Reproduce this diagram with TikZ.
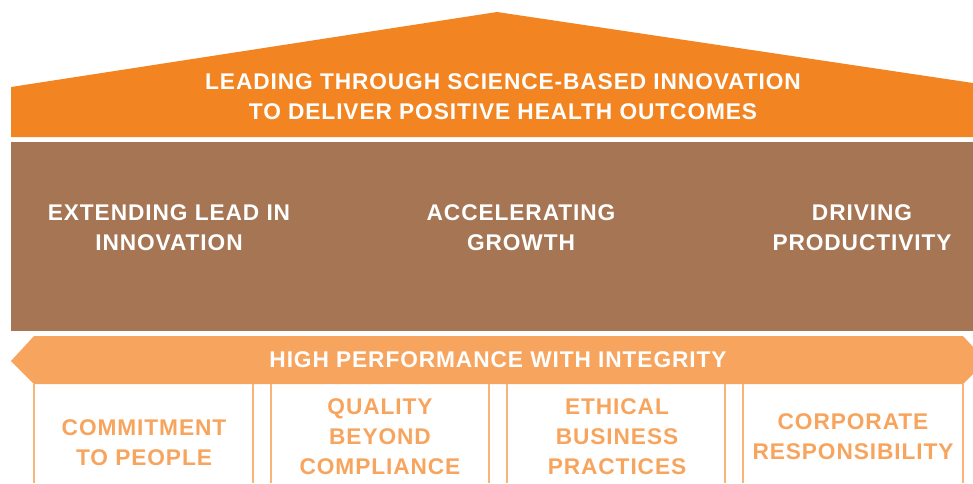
\documentclass[tikz,border=0pt]{standalone}
\usepackage{fontspec}
\setmainfont{Liberation Sans}
\usepackage{tikz}
\usetikzlibrary{positioning}

\definecolor{roofOrange}{HTML}{F28522}
\definecolor{wallBrown}{HTML}{A57554}
\definecolor{bandOrange}{HTML}{F7A55E}
\definecolor{pillarLine}{HTML}{F9B47A}

\begin{document}
\begin{tikzpicture}[
    x=1pt, y=-1pt,
    roof_text/.style={text=white, align=center, font=\fontsize{22.7}{30}\selectfont\bfseries\addfontfeatures{LetterSpace=4}},
    wall_text/.style={text=white, align=center, font=\fontsize{22.7}{30}\selectfont\bfseries\addfontfeatures{LetterSpace=4}},
    pillar_text/.style={text=bandOrange, align=center, font=\fontsize{22.7}{30}\selectfont\bfseries\addfontfeatures{LetterSpace=4}},
    pillar/.style={draw=pillarLine, line width=1.6pt}
]
    \useasboundingbox (0,0) rectangle (973,483);
    \clip (0,0) rectangle (973,483);

    % Roof
    \fill[roofOrange] (11,137) -- (11,87) -- (497,12) -- (973,83) -- (973,137) -- cycle;
    \node[roof_text] (mission) at (503,97) {LEADING THROUGH SCIENCE-BASED INNOVATION\\TO DELIVER POSITIVE HEALTH OUTCOMES};

    % Wall with priorities
    \fill[wallBrown] (11,142) rectangle (973,331);
    \node[wall_text] (lead) at (169,228) {EXTENDING LEAD IN\\INNOVATION};
    \node[wall_text] (growth) at (521,228) {ACCELERATING\\GROWTH};
    \node[wall_text] (productivity) at (862,228) {DRIVING\\PRODUCTIVITY};

    % Arrow band
    \fill[bandOrange] (11,361) -- (34,336) -- (963,336) -- (986,361) -- (963,384) -- (34,384) -- cycle;
    \node[roof_text] (integrity) at (498,360) {HIGH PERFORMANCE WITH INTEGRITY};

    % Pillars
    \draw[pillar] (34,384) -- (34,483) (253,384) -- (253,483);
    \draw[pillar] (271,384) -- (271,483) (489,384) -- (489,483);
    \draw[pillar] (507,384) -- (507,483) (725,384) -- (725,483);
    \draw[pillar] (743,384) -- (743,483) (963,384) -- (963,483);

    \node[pillar_text] (people) at (144,443) {COMMITMENT\\TO PEOPLE};
    \node[pillar_text] (quality) at (380,437) {QUALITY\\BEYOND\\COMPLIANCE};
    \node[pillar_text] (ethics) at (617,437) {ETHICAL\\BUSINESS\\PRACTICES};
    \node[pillar_text] (responsibility) at (853,437) {CORPORATE\\RESPONSIBILITY};

\end{tikzpicture}
\end{document}
